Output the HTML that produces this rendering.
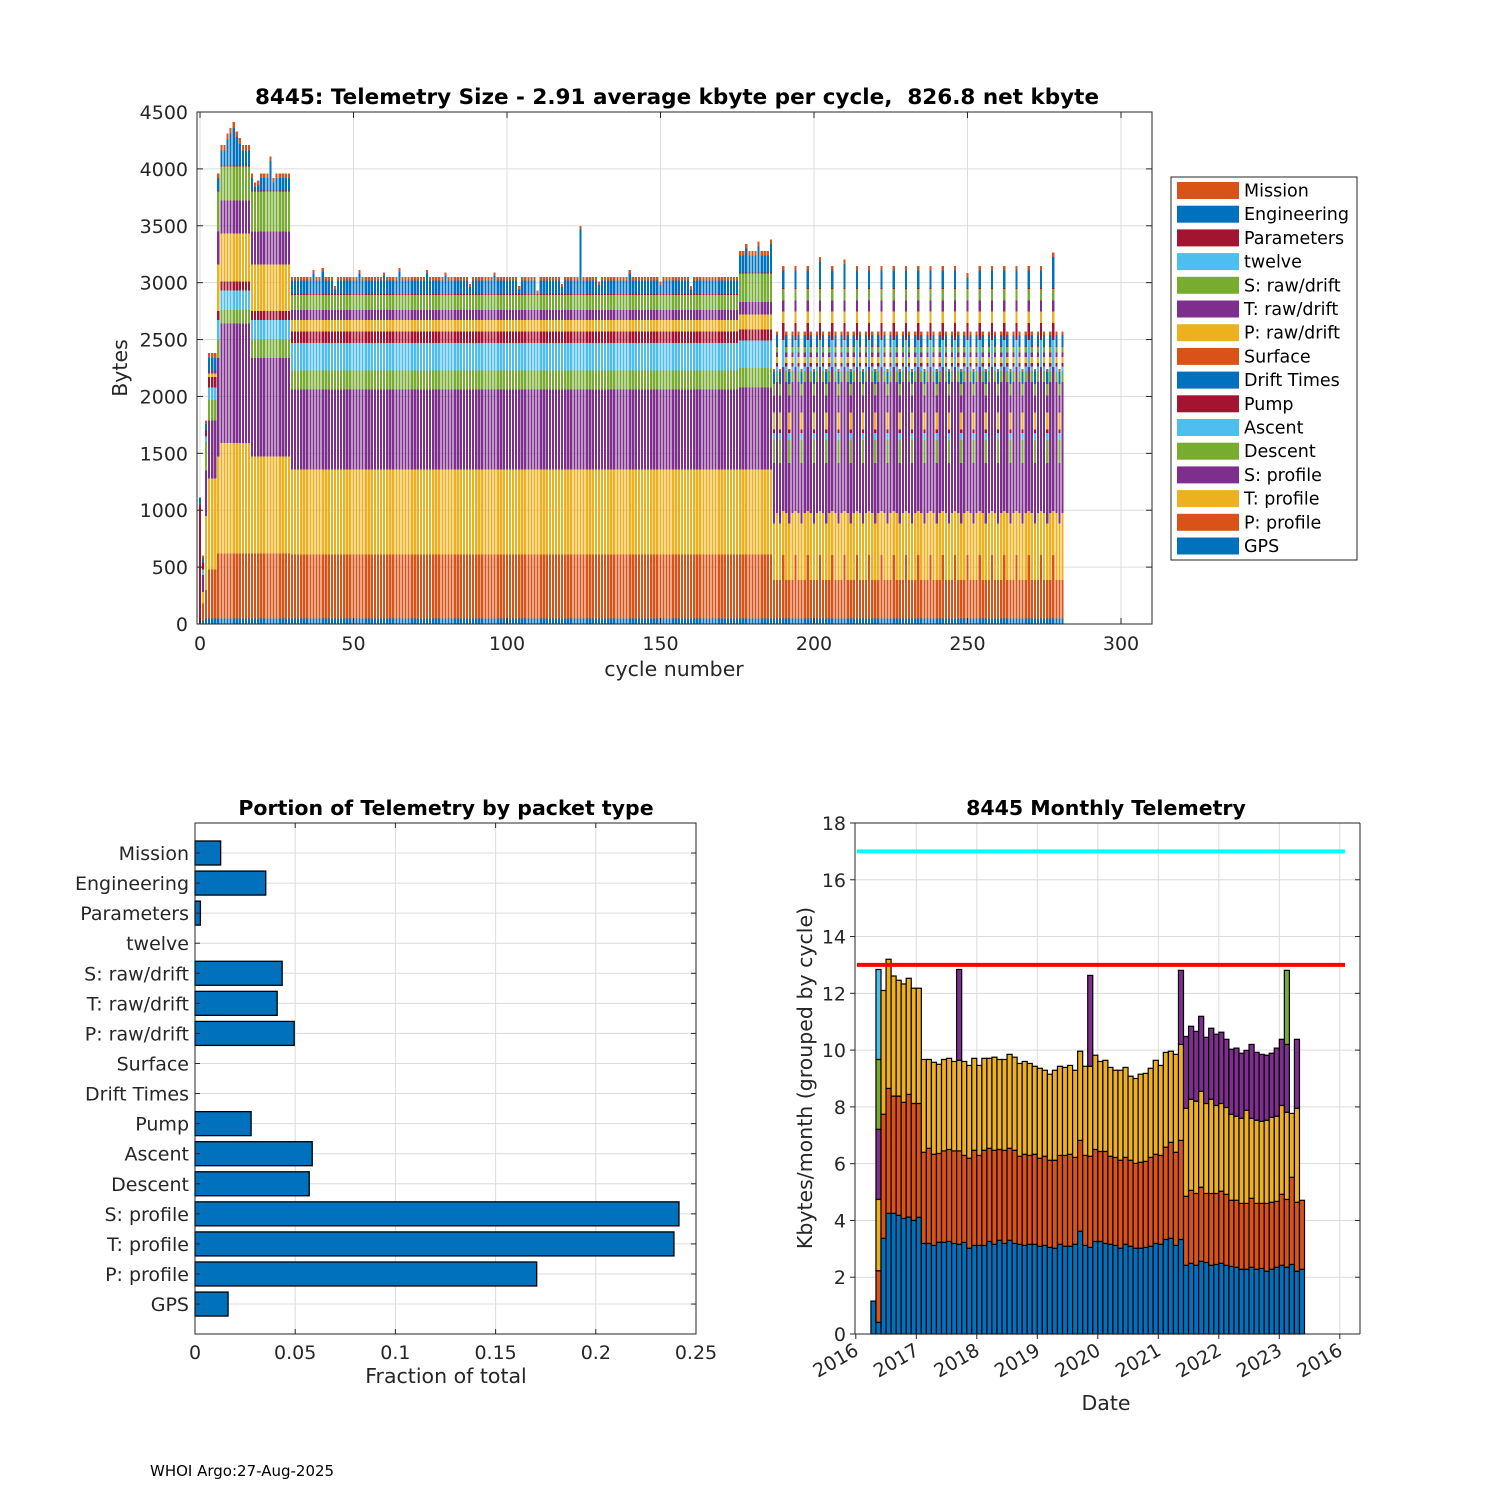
<!DOCTYPE html>
<html><head><meta charset="utf-8">
<style>
html,body{margin:0;padding:0;background:#fff;}
svg{display:block;font-family:"DejaVu Sans","Liberation Sans",sans-serif;}
</style></head>
<body>
<svg id="fig" width="1500" height="1500" viewBox="0 0 1500 1500" xmlns="http://www.w3.org/2000/svg">
<rect x="0" y="0" width="1500" height="1500" fill="#fff"/>
<g id="top"></g>
<g id="bl"></g>
<g id="br"></g>
<text x="150" y="1476" font-size="15" fill="#000">WHOI Argo:27-Aug-2025</text>
</svg>
<script>
// ---------- DATA: top chart ----------
const compNames = ["GPS","P: profile","T: profile","S: profile","Descent","Ascent","Pump","Drift Times","Surface","P: raw/drift","T: raw/drift","S: raw/drift","twelve","Parameters","Engineering","Mission"];
const compColors = ["#0072BD","#D95319","#EDB120","#7E2F8E","#77AC30","#4DBEEE","#A2142F","#0072BD","#D95319","#EDB120","#7E2F8E","#77AC30","#4DBEEE","#A2142F","#0072BD","#D95319"];
const kindA0 = [0,0,0,0,0,0,1050,0,0,0,0,0,0,0,60,0];
const kindB0 = [30,150,100,150,0,50,60,0,0,0,0,0,0,0,40,20];
const kindC0 = [50,250,650,400,250,50,50,0,0,0,0,0,0,0,60,30];
const kindD = [50,430,800,510,180,110,90,0,0,30,30,0,0,0,110,40];
const kindE = [50,570,970,1050,120,170,80,0,0,420,290,300,0,10,130,50];
const kindF = [50,570,850,870,160,170,80,0,0,410,290,350,0,10,110,40];
const kindM = [50,560,750,700,170,240,100,0,0,100,90,130,0,10,120,30];
const kindN = [50,560,750,720,170,240,100,0,0,130,110,250,0,10,150,40];
const kindL = [50,335,500,530,200,65,30,0,0,150,150,100,0,5,100,25];
const kindA = [50,335,590,1150,100,40,30,0,0,50,40,50,0,5,100,30];
const kindT = [50,555,390,1265,0,235,150,0,0,100,100,100,0,10,150,40];
const kindRuns = [["a",1],["b",1],["c",1],["d",3],["F",1],["E",10],["F",13],["M",146],["N",11]];
const lateKinds = "LAL"+"TALATALATALATALATALA"+"TALATALATALATALATALA"+"TALATALATALATALATALA"+"TALATALATALATALATALA"+"TALATALATALA";
// extra top bytes (engineering) for specific cycles
const extraTop = [[9,100],[10,150],[11,200],[12,120],[13,60],[18,-80],[19,-60],[23,150],[24,-40],[37,60],[40,80],[44,-80],[52,60],[60,40],[65,80],[74,60],[80,40],[88,-60],[96,40],[104,-80],[110,-120],[118,-60],[124,450],[130,-40],[140,60],[150,-40],[160,-80],[178,60],[182,80],[186,100],[202,80],[210,60],[250,-60],[278,120]];
const xTicksTop = [0,50,100,150,200,250,300];
const yTicksTop = [0,500,1000,1500,2000,2500,3000,3500,4000,4500];
const legendOrder = ["Mission","Engineering","Parameters","twelve","S: raw/drift","T: raw/drift","P: raw/drift","Surface","Drift Times","Pump","Ascent","Descent","S: profile","T: profile","P: profile","GPS"];

// ---------- DATA: portion chart ----------
const portionCats = ["Mission","Engineering","Parameters","twelve","S: raw/drift","T: raw/drift","P: raw/drift","Surface","Drift Times","Pump","Ascent","Descent","S: profile","T: profile","P: profile","GPS"];
const portionVals = [0.0128,0.0353,0.0027,0,0.0435,0.041,0.0495,0,0,0.028,0.0585,0.057,0.2415,0.239,0.1705,0.0165];
const portionTicks = [0,0.05,0.1,0.15,0.2,0.25];
const portionTickLabels = ["0","0.05","0.1","0.15","0.2","0.25"];

// ---------- DATA: monthly chart ----------
const monthStart = 3;
const blueM = [1.16,0.41,3.37,4.25,4.25,4.18,4.07,4.12,4.0,4.11,3.19,3.19,3.12,3.23,3.23,3.26,3.19,3.16,3.23,3.02,3.12,3.12,3.12,3.26,3.16,3.3,3.19,3.3,3.19,3.16,3.12,3.16,3.16,3.09,3.12,3.05,3.02,3.16,3.09,3.09,3.16,3.62,3.12,3.05,3.26,3.26,3.19,3.16,3.12,3.02,3.16,3.09,3.02,3.02,3.05,3.09,3.19,3.16,3.33,3.37,3.12,3.33,2.42,2.49,2.42,2.56,2.52,2.42,2.45,2.49,2.42,2.38,2.35,2.28,2.28,2.35,2.28,2.31,2.21,2.28,2.35,2.42,2.35,2.45,2.21,2.28];
const orangeM = [0,1.82,4.37,4.4,4.13,4.2,4.09,4.32,4.12,4.01,3.21,3.35,3.21,3.13,3.22,3.24,3.26,3.29,3.06,3.17,3.35,3.17,3.35,3.28,3.31,3.2,3.28,3.24,3.28,3.1,3.21,3.13,3.17,3.1,3.14,3.07,3.1,3.13,3.2,3.24,3.06,3.2,3.17,3.21,3.24,3.17,3.24,3.1,3.1,3.1,3.06,3.03,2.99,3.03,3.03,3.13,3.14,3.13,3.25,3.38,3.28,3.49,2.43,2.57,2.53,2.61,2.43,2.53,2.5,2.54,2.5,2.33,2.36,2.32,2.32,2.43,2.32,2.29,2.39,2.36,2.32,2.5,2.39,3.07,2.43,2.43];
const yellowM = [0,2.51,4.36,4.55,4.23,4.08,4.17,4.09,4.06,4.06,3.27,3.13,3.24,3.14,3.22,3.21,3.15,3.19,3.31,3.27,3.24,3.17,3.24,3.17,3.28,3.17,3.2,3.31,3.28,3.27,3.27,3.24,3.1,3.17,3.03,3.03,3.17,3.14,3.1,3.13,3.07,3.14,3.14,3.17,3.32,3.17,3.21,3.13,3.07,3.17,3.17,2.96,2.99,3.1,3.1,3.14,3.31,3.17,3.34,3.21,3.45,3.38,3.1,3.21,3.25,3.38,3.17,3.32,3.1,3.09,3.06,3.03,2.96,3.0,3.28,2.82,2.93,2.89,2.93,2.99,3.0,3.13,3.07,2.25,3.31,0];
const purpleM = [0,2.47,0,0,0,0,0,0,0,0,0,0,0,0,0,0,0,3.2,0,0,0,0,0,0,0,0,0,0,0,0,0,0,0,0,0,0,0,0,0,0,0,0,0,3.2,0,0,0,0,0,0,0,0,0,0,0,0,0,0,0,0,0,2.61,2.53,2.57,2.46,2.64,2.33,2.5,2.51,2.51,2.4,2.29,2.4,2.29,2.11,2.6,2.39,2.36,2.29,2.26,2.4,2.33,2.39,0,2.43,0];
const greenM = [[1,2.46],[82,2.61]];
const lblueM = [[1,3.17]];
const limitLines = [17,13];
const yTicksM = [0,2,4,6,8,10,12,14,16,18];
const dateTickLabels = ["2016","2017","2018","2019","2020","2021","2022","2023","2016"];

const NS="http://www.w3.org/2000/svg";
function mk(parent,tag,attrs,text){const e=document.createElementNS(NS,tag);for(const k in attrs)e.setAttribute(k,attrs[k]);if(text!==undefined)e.textContent=text;parent.appendChild(e);return e;}
const TXT="#262626", GRID="#dcdcdc", FS=19, FT=21.5;

// ================= TOP CHART =================
(function(){
  const g=document.getElementById('top');
  const L=197,R=1152,T=112,B=624;
  const X=c=>200+c*3.07, Y=v=>624-v*(512/4500);
  for(const t of yTicksTop){const l=mk(g,'line',{x1:L,x2:R,y1:Y(t),y2:Y(t),stroke:GRID,'stroke-width':1});}
  for(const t of xTicksTop){const l=mk(g,'line',{x1:X(t),x2:X(t),y1:T,y2:B,stroke:GRID,'stroke-width':1});}
  const kindMap={a:kindA0,b:kindB0,c:kindC0,d:kindD,E:kindE,F:kindF,M:kindM,N:kindN,L:kindL,A:kindA,T:kindT};
  let kinds=[];for(const r of kindRuns)for(let i=0;i<r[1];i++)kinds.push(r[0]);
  for(const ch of lateKinds)kinds.push(ch);
  const extra={};extraTop.forEach(p=>extra[p[0]]=p[1]);
  const bars=mk(g,'g',{'shape-rendering':'crispEdges'});
  
  kinds.forEach((k,c)=>{
    const vals=kindMap[k].slice();
    if(extra[c])vals[14]=Math.max(0,vals[14]+extra[c]);
    let cum=0;
    vals.forEach((v,j)=>{ if(v<=0)return;
      const r=mk(bars,'rect',{x:X(c-0.4),width:3.07*0.72,y:Y(cum+v),height:Y(cum)-Y(cum+v),fill:compColors[j]});
      
      
      cum+=v;});
  });
  mk(g,'rect',{x:L,y:T,width:R-L,height:B-T,fill:'none',stroke:TXT,'stroke-width':1});
  for(const t of yTicksTop){mk(g,'line',{x1:L,x2:L+6,y1:Y(t),y2:Y(t),stroke:TXT});mk(g,'line',{x1:R-6,x2:R,y1:Y(t),y2:Y(t),stroke:TXT});
    const e=mk(g,'text',{x:L-9,y:Y(t)+7,'text-anchor':'end','font-size':FS,fill:TXT},String(t));}
  for(const t of xTicksTop){mk(g,'line',{x1:X(t),x2:X(t),y1:B-6,y2:B,stroke:TXT});mk(g,'line',{x1:X(t),x2:X(t),y1:T,y2:T+6,stroke:TXT});
    const e=mk(g,'text',{x:X(t),y:650,'text-anchor':'middle','font-size':FS,fill:TXT},String(t));}
  let e=mk(g,'text',{x:677,y:104,'text-anchor':'middle','font-size':FT,'font-weight':'bold',fill:'#000'},"8445: Telemetry Size - 2.91 average kbyte per cycle,  826.8 net kbyte");
  e.style.whiteSpace='pre';
  e=mk(g,'text',{x:674,y:676,'text-anchor':'middle','font-size':20.5,fill:TXT},"cycle number");
  e=mk(g,'text',{x:127,y:368,'text-anchor':'middle','font-size':20.5,fill:TXT,transform:'rotate(-90 127 368)'},"Bytes");
  const lg=mk(g,'g',{});
  mk(lg,'rect',{x:1171,y:177,width:186,height:383,fill:'#fff',stroke:TXT,'stroke-width':1});
  legendOrder.forEach((n,i)=>{const cy=190.5+23.7*i;const idx=compNames.indexOf(n);
    const it=mk(lg,'g',{});
    mk(it,'rect',{x:1177,y:cy-8.5,width:62,height:17,fill:compColors[idx]});
    mk(it,'text',{x:1244,y:cy+6,'font-size':17.5,fill:'#000'},n);});
})();

// ================= PORTION CHART =================
(function(){
  const g=document.getElementById('bl');
  const L=195,R=696,T=823,B=1334;
  const X=f=>L+f*2004, Y=i=>853+30.07*i;
  for(const t of portionTicks){mk(g,'line',{x1:X(t),x2:X(t),y1:T,y2:B,stroke:GRID});}
  portionCats.forEach((c,i)=>{mk(g,'line',{x1:L,x2:R,y1:Y(i),y2:Y(i),stroke:GRID});});
  portionCats.forEach((c,i)=>{
    if(portionVals[i]>0){const r=mk(g,'rect',{x:X(0),y:Y(i)-12,width:X(portionVals[i])-X(0),height:24,fill:'#0072BD',stroke:'#000','stroke-width':1.3});
      }
    const e=mk(g,'text',{x:189,y:Y(i)+7,'text-anchor':'end','font-size':FS,fill:TXT},c);
    mk(g,'line',{x1:L,x2:L+5,y1:Y(i),y2:Y(i),stroke:TXT});mk(g,'line',{x1:R-5,x2:R,y1:Y(i),y2:Y(i),stroke:TXT});
  });
  mk(g,'rect',{x:L,y:T,width:R-L,height:B-T,fill:'none',stroke:TXT});
  portionTicks.forEach((t,i)=>{mk(g,'line',{x1:X(t),x2:X(t),y1:B-5,y2:B,stroke:TXT});mk(g,'line',{x1:X(t),x2:X(t),y1:T,y2:T+5,stroke:TXT});
    const e=mk(g,'text',{x:X(t),y:1359,'text-anchor':'middle','font-size':FS,fill:TXT},portionTickLabels[i]);});
  let e=mk(g,'text',{x:446,y:815,'text-anchor':'middle','font-size':20.5,'font-weight':'bold',fill:'#000'},"Portion of Telemetry by packet type");
  e=mk(g,'text',{x:446,y:1383,'text-anchor':'middle','font-size':20.5,fill:TXT},"Fraction of total");
})();

// ================= MONTHLY CHART =================
(function(){
  const g=document.getElementById('br');
  const L=855,R=1360,T=823,B=1334;
  const Y=v=>B-v*28.39;
  const Xm=m=>855.8+m*(60.5/12);
  for(const t of yTicksM){mk(g,'line',{x1:L,x2:R,y1:Y(t),y2:Y(t),stroke:GRID});}
  dateTickLabels.forEach((d,i)=>{if(i>0)mk(g,'line',{x1:Xm(12*i),x2:Xm(12*i),y1:T,y2:B,stroke:GRID});});
  const bars=mk(g,'g',{});
  const green={},lblue={};greenM.forEach(p=>green[p[0]]=p[1]);lblueM.forEach(p=>lblue[p[0]]=p[1]);
  blueM.forEach((b,i)=>{
    const segs=[[b,'#0072BD'],[orangeM[i],'#D95319'],[yellowM[i],'#EDB120'],[purpleM[i],'#7E2F8E'],[green[i]||0,'#77AC30'],[lblue[i]||0,'#4DBEEE']];
    let cum=0;const x0=Xm(monthStart+i);
    segs.forEach(s=>{if(s[0]<=0)return;
      const r=mk(bars,'rect',{x:x0,y:Y(cum+s[0]),width:60.5/12,height:Y(cum)-Y(cum+s[0]),fill:s[1],stroke:'#000','stroke-width':1.2});
      
      
      cum+=s[0];});
  });
  const lc=['#00FFFF','#FF0000'];
  limitLines.forEach((v,i)=>{const l=mk(g,'line',{x1:857,x2:1345,y1:Y(v),y2:Y(v),stroke:lc[i],'stroke-width':4});});
  mk(g,'line',{x1:L,x2:L,y1:T,y2:B,stroke:TXT});mk(g,'line',{x1:L,x2:R,y1:B,y2:B,stroke:TXT});
  mk(g,'line',{x1:R,x2:R,y1:T,y2:B,stroke:TXT});mk(g,'line',{x1:L,x2:R,y1:T,y2:T,stroke:TXT});
  for(const t of yTicksM){mk(g,'line',{x1:L-5,x2:L,y1:Y(t),y2:Y(t),stroke:TXT});mk(g,'line',{x1:R,x2:R-5,y1:Y(t),y2:Y(t),stroke:TXT});
    const e=mk(g,'text',{x:L-9,y:Y(t)+7,'text-anchor':'end','font-size':FS,fill:TXT},String(t));}
  dateTickLabels.forEach((d,i)=>{const x=Xm(12*i);mk(g,'line',{x1:x,x2:x,y1:B,y2:B+5,stroke:TXT});
    const e=mk(g,'text',{x:x+4,y:B+20,'text-anchor':'end','font-size':FS,fill:TXT,transform:`rotate(-30 ${x+4} ${B+20})`},d);});
  let e=mk(g,'text',{x:1106,y:815,'text-anchor':'middle','font-size':20.5,'font-weight':'bold',fill:'#000'},"8445 Monthly Telemetry");
  e=mk(g,'text',{x:1106,y:1410,'text-anchor':'middle','font-size':20.5,fill:TXT},"Date");
  e=mk(g,'text',{x:812,y:1078,'text-anchor':'middle','font-size':20.5,fill:TXT,transform:'rotate(-90 812 1078)'},"Kbytes/month (grouped by cycle)");
})();
</script>
</body></html>
